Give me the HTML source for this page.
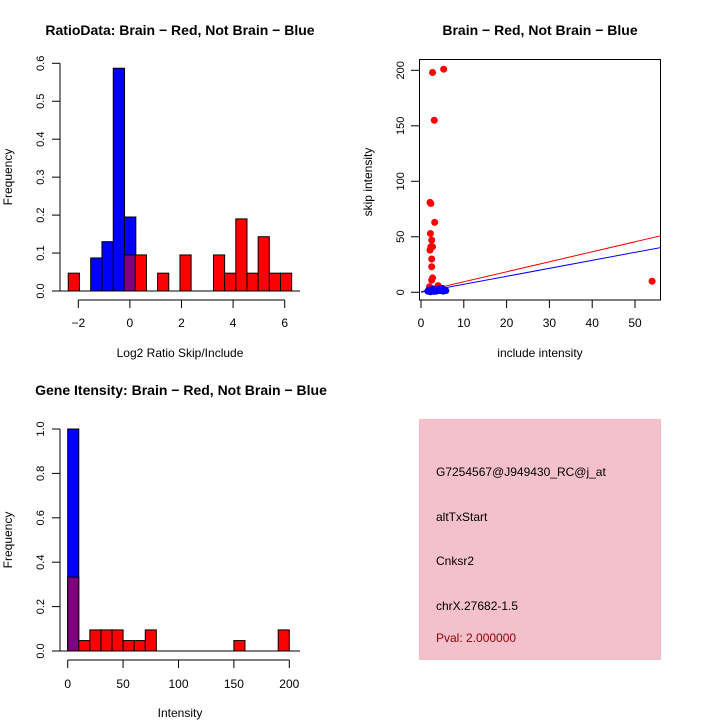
<!DOCTYPE html>
<html><head><meta charset="utf-8"><style>
body{margin:0;background:#fff}
svg{display:block;font-family:"Liberation Sans",sans-serif}
</style></head><body>
<svg id="c" width="720" height="720" viewBox="0 0 720 720" xmlns="http://www.w3.org/2000/svg"></svg>
<script>
// Ratio histogram data (log2 ratio)
const ratioRedStart = -2.39, ratioRedWidth = 0.433;
const ratioRedFreq = [0.047,0,0,0,0,0.095,0.095,0,0.047,0,0.095,0,0,0.095,0.047,0.19,0.047,0.143,0.047,0.047];
const ratioBlueStart = -1.52, ratioBlueWidth = 0.4375;
const ratioBlueFreq = [0.087,0.13,0.587,0.195];
const ratioXTicks = [-2,0,2,4,6];
const ratioYTicks = [0,0.1,0.2,0.3,0.4,0.5,0.6];
// Scatter data
const redIncl = [2.7,5.3,3.1,2.1,2.3,3.2,2.2,2.5,2.3,2.7,2.1,2.5,2.5,2.7,2.5,4,2,54,3,2.4];
const redSkip = [198,201,155,81,80,63,53,47,41,41,38,30,23,13,11,6,5,10,3,2];
const blueIncl = [1.6,2,2.4,2.8,3.2,3.6,4,4.5,5,5.4,5.8,2.2,3,4.2,5.2,1.8];
const blueSkip = [1,2,1.5,3,2,1,2.5,1.5,3.5,2,1.5,0.5,0.8,3,1,2];
const redLine = [0.5,0.9];  // intercept, slope
const blueLine = [0,0.72];
const scatXTicks = [0,10,20,30,40,50];
const scatYTicks = [0,50,100,150,200];
// Intensity histogram
const intRedFreq = [0.333,0.047,0.095,0.095,0.095,0.047,0.047,0.095,0,0,0,0,0,0,0,0.047,0,0,0,0.095];
const intBlueFreq = [1.0];
const intBinWidth = 10;
const intXTicks = [0,50,100,150,200];
const intYTicks = [0,0.2,0.4,0.6,0.8,1.0];

const svg = document.getElementById('c');
const NS = 'http://www.w3.org/2000/svg';
function mk(tag, attrs, parent){const e=document.createElementNS(NS,tag);for(const k in attrs)e.setAttribute(k,attrs[k]);(parent||svg).appendChild(e);return e;}
function txt(s,x,y,opts){const e=mk('text',Object.assign({x:x,y:y,'text-anchor':'middle','font-size':12,fill:'#000'},opts||{}));e.textContent=s;return e;}

// ---- Panel 1 ----
const g1 = mk('g',{});


const rx = v => 78.3 + 25.8*(v+2);
const ry = v => 291 - v*379.5;
function bar(g,x0,x1,v,yf,fill,name){const r=mk('rect',{x:x0,y:yf(v),width:x1-x0,height:yf(0)-yf(v),fill:fill,stroke:'#000','stroke-width':1},g);return r;}
ratioBlueFreq.forEach((v,i)=>{const a=ratioBlueStart+i*ratioBlueWidth;bar(g1,rx(a),rx(a+ratioBlueWidth),v,ry,'#0000ff','blue-bar');});
ratioRedFreq.forEach((v,i)=>{if(v<=0)return;const a=ratioRedStart+i*ratioRedWidth,b=a+ratioRedWidth;
  let over=false;ratioBlueFreq.forEach((bv,j)=>{const ba=ratioBlueStart+j*ratioBlueWidth;if(Math.abs(ba-a)<0.15&&bv>=v)over=true;});
  bar(g1,rx(a),rx(b),v,ry,over?'#800080':'#ff0000','red-bar');});
mk('line',{x1:52,y1:291,x2:300,y2:291,stroke:'#000'},g1);
mk('line',{x1:60,y1:ry(0.6),x2:60,y2:ry(0),stroke:'#000'},g1);
ratioYTicks.forEach(t=>{mk('line',{x1:52,y1:ry(t),x2:60,y2:ry(t),stroke:'#000'},g1);txt(t.toFixed(1),40,ry(t)+4,{transform:`rotate(-90 40 ${ry(t)})`,'font-size':11});});
mk('line',{x1:rx(-2),y1:300,x2:rx(6),y2:300,stroke:'#000'},g1);
ratioXTicks.forEach(t=>{mk('line',{x1:rx(t),y1:300,x2:rx(t),y2:308,stroke:'#000'},g1);txt(t<0?'\u2212'+(-t):String(t),rx(t),327,{'font-size':12});});
const t1=txt('RatioData: Brain \u2212 Red, Not Brain \u2212 Blue',180,35,{'font-weight':'bold','font-size':14});
txt('Log2 Ratio Skip/Include',180,357);
txt('Frequency',12,177,{transform:'rotate(-90 12 177)'});

// ---- Panel 2 ----
const g2 = mk('g',{});


const sx = v => 421 + v*4.28;
const sy = v => 292.3 - v*1.11;
mk('rect',{x:419.5,y:59.5,width:241,height:240.5,fill:'none',stroke:'#000'},g2);
const cp=mk('clipPath',{id:'sc'},g2);mk('rect',{x:419.5,y:59.5,width:241,height:240.5},cp);
const lr=mk('line',{x1:sx(0),y1:sy(redLine[0]),x2:sx(60),y2:sy(redLine[0]+60*redLine[1]),stroke:'#ff0000','clip-path':'url(#sc)'},g2);

const lb=mk('line',{x1:sx(0),y1:sy(blueLine[0]),x2:sx(60),y2:sy(blueLine[0]+60*blueLine[1]),stroke:'#0000ff','clip-path':'url(#sc)'},g2);

redIncl.forEach((x,i)=>{const c=mk('circle',{cx:sx(x),cy:sy(redSkip[i]),r:3.5,fill:'#ff0000'},g2);});
blueIncl.forEach((x,i)=>{const c=mk('circle',{cx:sx(x),cy:sy(blueSkip[i]),r:3.5,fill:'#0000ff'},g2);});
mk('line',{x1:sx(0),y1:300,x2:sx(50),y2:300,stroke:'#000'},g2);
scatXTicks.forEach(t=>{mk('line',{x1:sx(t),y1:300,x2:sx(t),y2:308,stroke:'#000'},g2);txt(String(t),sx(t),327);});
scatYTicks.forEach(t=>{mk('line',{x1:411,y1:sy(t),x2:419.5,y2:sy(t),stroke:'#000'},g2);txt(String(t),400,sy(t)+4,{transform:`rotate(-90 400 ${sy(t)})`,'font-size':11});});
const t2=txt('Brain \u2212 Red, Not Brain \u2212 Blue',540,35,{'font-weight':'bold','font-size':14});
txt('include intensity',540,357);
txt('skip intensity',372,182,{transform:'rotate(-90 372 182)'});

// ---- Panel 3 ----
const g3 = mk('g',{});


const ix = v => 67.7 + v*1.108;
const iy = v => 651 - v*222;
intBlueFreq.forEach((v,i)=>bar(g3,ix(i*intBinWidth),ix((i+1)*intBinWidth),v,iy,'#0000ff','blue-bar'));
intRedFreq.forEach((v,i)=>{if(v<=0)return;const over=i<intBlueFreq.length&&intBlueFreq[i]>=v;bar(g3,ix(i*intBinWidth),ix((i+1)*intBinWidth),v,iy,over?'#800080':'#ff0000','red-bar');});
mk('line',{x1:52,y1:651,x2:300,y2:651,stroke:'#000'},g3);
mk('line',{x1:60,y1:iy(1),x2:60,y2:iy(0),stroke:'#000'},g3);
intYTicks.forEach(t=>{mk('line',{x1:52,y1:iy(t),x2:60,y2:iy(t),stroke:'#000'},g3);txt(t.toFixed(1),40,iy(t)+4,{transform:`rotate(-90 40 ${iy(t)})`,'font-size':11});});
mk('line',{x1:ix(0),y1:660,x2:ix(200),y2:660,stroke:'#000'},g3);
intXTicks.forEach(t=>{mk('line',{x1:ix(t),y1:660,x2:ix(t),y2:668,stroke:'#000'},g3);txt(String(t),ix(t),688);});
const t3=txt('Gene Itensity: Brain \u2212 Red, Not Brain \u2212 Blue',181,395,{'font-weight':'bold','font-size':14});
txt('Intensity',180,717);
txt('Frequency',12,540,{transform:'rotate(-90 12 540)'});

// ---- Panel 4 ----
const g4 = mk('g',{});


mk('rect',{x:419,y:419,width:242,height:241,fill:'#f4c0cc'},g4);
[['G7254567@J949430_RC@j_at',476,'#000'],['altTxStart',521,'#000'],['Cnksr2',565,'#000'],['chrX.27682-1.5',610,'#000'],['Pval: 2.000000',642,'#8b0000']].forEach(r=>{
  const e=txt(r[0],436,r[1],{'text-anchor':'start',fill:r[2]});
  
  
});
</script>
</body></html>
